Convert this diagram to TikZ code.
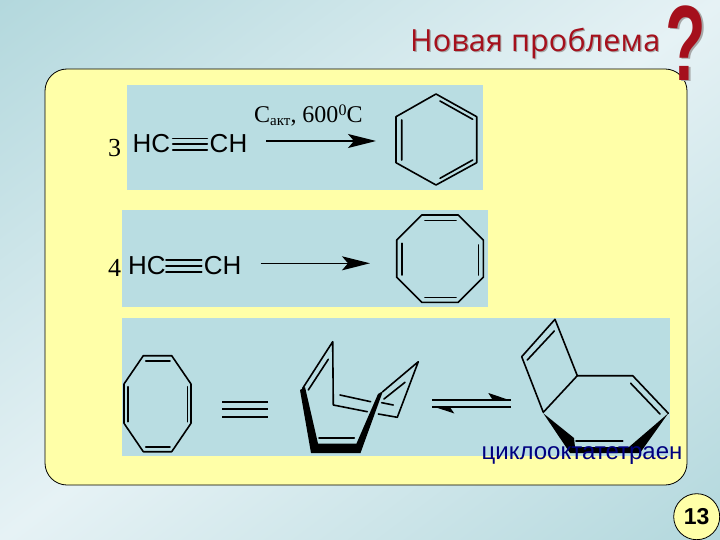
\documentclass[tikz,border=0pt]{standalone}
\usepackage{fontspec}
\setmainfont{Liberation Serif}
\setsansfont{Liberation Sans}
\newfontfamily\titlefont[LetterSpace=0.5]{Open Sans}
\usetikzlibrary{arrows.meta, positioning}
\definecolor{panelyellow}{HTML}{FFFFA8}
\definecolor{rowblue}{HTML}{B9DDE2}
\definecolor{titlered}{HTML}{A5101C}
\definecolor{namenavy}{HTML}{00007F}
\definecolor{backdark}{HTML}{B3D8DD}
\definecolor{backlight}{HTML}{E6F2F5}
\tikzset{
  bond/.style={line width=1.6pt, line cap=round, line join=round},
  rowbox/.style={fill=rowblue, draw=none},
  formula/.style={font=\sffamily\fontsize{26}{26}\selectfont, inner sep=0pt},
  coeff/.style={font=\fontsize{26}{26}\selectfont, inner sep=0pt},
  mainarrow/.style={line width=1.4pt, -{Stealth[length=28pt,width=14pt,inset=6pt]}},
}
\begin{document}
\begin{tikzpicture}[x=1pt, y=-1pt]
  \useasboundingbox (0,0) rectangle (720,540);
  % background and panel
  \begin{scope}
    \clip (0,0) rectangle (720,540);
    \shade[transform canvas={rotate around={36.87:(360,270)}}, top color=backdark, bottom color=backdark, middle color=backlight] (-90,-162) rectangle (810,702);
  \end{scope}
  \draw[fill=panelyellow, line width=0.8pt, rounded corners=22pt] (45,69) rectangle (687,485);
  \fill[rowbox] (127,85) rectangle (483,190);
  \fill[rowbox] (122,210) rectangle (488,307);
  \fill[rowbox] (122,318) rectangle (670,456);
  % title
  \node[anchor=base west, inner sep=0pt, text=black!35, font=\titlefont\fontsize{30.5}{31}\selectfont] (titleshadow) at (411.2,53) {Новая проблема};
  \node[anchor=base west, inner sep=0pt, text=titlered, font=\titlefont\fontsize{30.5}{31}\selectfont] (title) at (410,51.7) {Новая проблема};
  \node[inner sep=0pt, text=black!35, font=\sffamily\bfseries\fontsize{107}{107}\selectfont] (askshadow) at (687.5,44) {\scalebox{.62}[1]{?}};
  \node[inner sep=0pt, text=titlered, font=\sffamily\bfseries\fontsize{107}{107}\selectfont] (ask) at (686,43) {\scalebox{.62}[1]{?}};
  % first row
  \node[coeff] (coeffa) at (114.5,148) {3};
  \node[formula, anchor=west] (hca) at (132.5,144) {HC};
  \node[formula, anchor=east] (cha) at (247.5,144) {CH};
  \foreach \y in {138.5,144.3,150} \draw[bond] (172.7,\y) -- (207.3,\y);
  \draw[mainarrow] (266,141) -- (376,141);
  \node[anchor=base west, inner sep=0pt, font=\fontsize{24}{24}\selectfont] (cond) at (254,123)
    {C\raisebox{-3pt}{\fontsize{15}{15}\selectfont акт}, 600\raisebox{7pt}{\fontsize{16}{16}\selectfont 0}C};
  \draw[bond] (436,94) -- (476.7,116.7) -- (476.7,162.7) -- (436,185) -- (396,162.7) -- (396,116.7) -- cycle;
  \draw[bond] (440,101) -- (472.7,119.3) (401.7,120) -- (401.7,160) (440,178.3) -- (472.7,160);
  % second row
  \node[coeff] (coeffb) at (114.5,268) {4};
  \node[formula, anchor=west] (hcb) at (127.8,266) {HC};
  \node[formula, anchor=east] (chb) at (241.5,266) {CH};
  \foreach \y in {260,266,271.7} \draw[bond] (166,\y) -- (201.7,\y);
  \draw[mainarrow] (260.7,263.3) -- (370,263.3);
  \draw[bond] (421.7,215) -- (458.3,215) -- (483.3,240) -- (483.3,277.3) -- (458.3,302.3) -- (421.7,302.3) -- (396.7,277.3) -- (396.7,240) -- cycle;
  \draw[bond] (425,220.7) -- (456,220.7) (478.3,245) -- (478.3,275) (425,297.3) -- (456,297.3) (401.7,243.3) -- (401.7,275);
  % third row: flat ring
  \draw[bond] (143.3,355.7) -- (171.7,355.7) -- (191,384) -- (191,423.3) -- (171.7,451.7) -- (143.3,451.7) -- (124,423.3) -- (124,384) -- cycle;
  \draw[bond] (145.7,360.7) -- (170,360.7) (187.3,386.7) -- (187.3,421.7) (145.7,446.7) -- (170,446.7) (127.7,386.7) -- (127.7,421.7);
  \foreach \y in {401.7,409.3,417} \draw[line width=2pt] (222.3,\y) -- (267.7,\y);
  % tub form
  \fill (300,390) -- (305,387) -- (318,443.5) -- (356.5,443.5) -- (378,394) -- (383,391) -- (360.5,453) -- (311,453) -- cycle;
  \draw[bond] (319,437.7) -- (354.3,437.7);
  \draw[bond] (302.7,388.3) -- (332.7,341.7) -- (333.3,405) -- (367.3,411.7);
  \draw[bond] (308.3,390) -- (328.3,359.3);
  \draw[bond] (378.3,414) -- (397.3,417.3) -- (418.3,361.7) -- (382.7,391.7);
  \draw[bond] (405,382.3) -- (384,399) (340,395) -- (370.7,401.7) (381.7,402.7) -- (393.3,405);
  % equilibrium
  \draw[line width=2pt] (432.3,400) -- (510.7,400) (432.3,406.7) -- (510.7,406.7);
  \fill (510.7,400.5) -- (488.3,393) -- (493,400.5) -- cycle;
  \fill (432.3,406.2) -- (454.3,413.5) -- (449.3,406.2) -- cycle;
  % bicyclic form
  \draw[bond] (521.7,356.7) -- (555,319.3) -- (577.3,375.7) -- (543.3,412.3) -- cycle;
  \draw[bond] (527.3,360) -- (554.3,331);
  \draw[bond] (577.3,375.7) -- (632.7,375.7) -- (668.3,413.3);
  \draw[bond] (630.7,383.3) -- (660,414) (576,441) -- (622.7,441);
  \fill (543.3,413.3) -- (574,438) -- (575,447) -- (629,447) -- (668.3,413.3) -- (640,453) -- (570,453) -- cycle;
  % labels
  \node[anchor=base, inner sep=0pt, text=namenavy, font=\sffamily\fontsize{24}{24}\selectfont] (name) at (582,459) {циклооктатетраен};
  \node[circle, draw, fill=panelyellow, line width=0.8pt, minimum size=46pt, inner sep=0pt, font=\sffamily\bfseries\fontsize{23}{23}\selectfont] (pageno) at (696.7,516.7) {13};
\end{tikzpicture}
\end{document}
